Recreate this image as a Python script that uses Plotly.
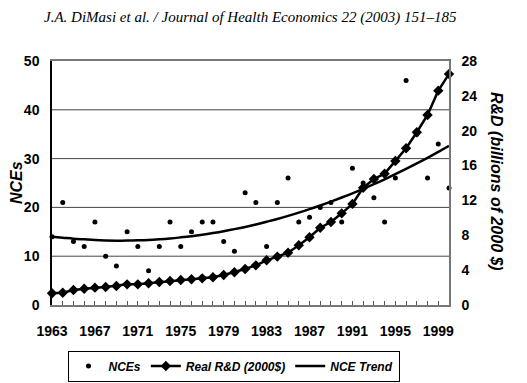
import plotly.graph_objects as go

years = list(range(1963, 2001))
nces = [14, 21, 13, 12, 17, 10, 8, 15, 12, 7,
        12, 17, 12, 15, 17, 17, 13, 11, 23, 21,
        12, 21, 26, 17, 18, 20, 21, 17, 28, 25,
        22, 17, 26, 46, 35, 26, 33, 24]
rd_real = [1.34, 1.41, 1.72, 1.87, 1.99, 2.07, 2.18, 2.37, 2.37, 2.49,
           2.64, 2.75, 2.87, 2.95, 3.06, 3.18, 3.44, 3.75, 4.13, 4.55,
           5.13, 5.55, 6.0, 6.85, 7.77, 8.87, 9.52, 10.52, 11.6, 13.46,
           14.46, 15.07, 16.53, 17.98, 19.82, 21.8, 24.6, 26.5]
nce_trend = [14.0, 13.8, 13.6, 13.45, 13.3, 13.22, 13.19, 13.2, 13.25, 13.34,
             13.47, 13.64, 13.86, 14.11, 14.41, 14.75, 15.13, 15.55, 16.0, 16.5,
             17.06, 17.64, 18.27, 18.93, 19.64, 20.39, 21.19, 22.02, 22.89, 23.81,
             24.76, 25.76, 26.8, 27.88, 29.0, 30.16, 31.36, 32.6]
label_years = list(range(1963, 2000, 4))
left_ticks = [0, 10, 20, 30, 40, 50]
right_ticks = [0, 4, 8, 12, 16, 20, 24, 28]

tick_font = dict(family="Liberation Sans, Arial", size=14, color="black", weight="bold")

# plot area in page pixels (the page body adds an 8px offset)
PX0, PX1, PY0, PY1 = 52, 449, 61, 305
OFF = 8


def px(x):
    return (x - PX0) / (PX1 - PX0)


def py(y):
    return (PY1 - y) / (PY1 - PY0)


fig = go.Figure()
fig.add_trace(go.Scatter(
    x=years, y=nces, mode="markers", name="NCEs",
    marker=dict(color="black", size=5), cliponaxis=False))
fig.add_trace(go.Scatter(
    x=years, y=rd_real, mode="lines+markers", name="Real R&D (2000$)",
    yaxis="y2", line=dict(color="black", width=2.5),
    marker=dict(symbol="diamond", color="black", size=8), cliponaxis=False))
fig.add_trace(go.Scatter(
    x=years, y=nce_trend, mode="lines", name="NCE Trend",
    line=dict(color="black", width=2.5, shape="spline", smoothing=1), cliponaxis=False))

# horizontal grid lines at the left-axis ticks
for v in left_ticks[1:-1]:
    fig.add_shape(type="line", xref="paper", yref="y", x0=0, x1=1, y0=v, y1=v,
                  line=dict(color="#444", width=1), layer="below")

W, H = 527 - OFF, 383 - OFF
fig.update_layout(
    width=W, height=H,
    margin=dict(l=PX0 - OFF, r=W - (PX1 - OFF), t=PY0 - OFF, b=H - (PY1 - OFF),
                autoexpand=False),
    paper_bgcolor="white", plot_bgcolor="white",
    showlegend=True,
    legend=dict(orientation="h", x=px(233.5), xanchor="center", y=py(350.5), yanchor="top",
                bordercolor="black", borderwidth=1, bgcolor="white",
                font=dict(family="Liberation Sans, Arial", size=12, color="black",
                          style="italic", weight="bold"),
                traceorder="normal", itemwidth=30, tracegroupgap=0),
    xaxis=dict(range=[1963, 2000], tickmode="array", tickvals=label_years,
               ticktext=[str(y) for y in label_years], automargin=False,
               ticks="inside", ticklen=4, tickcolor="#555", showline=True,
               linecolor="#777", linewidth=1.5, mirror=True, showgrid=False,
               zeroline=False, tickfont=tick_font, ticklabelstandoff=12,
               minor=dict(dtick=1, tick0=1963, ticks="inside", ticklen=4,
                          tickcolor="#555", showgrid=False)),
    yaxis=dict(range=[0, 50], tickmode="array", tickvals=left_ticks, automargin=False,
               showline=True, linecolor="black", linewidth=1.5,
               showgrid=False, zeroline=False,
               ticks="", tickfont=tick_font, ticklabelstandoff=8),
    yaxis2=dict(range=[0, 28], tickmode="array", tickvals=right_ticks, automargin=False,
                overlaying="y", side="right", showline=True, linecolor="#777",
                linewidth=1.5, showgrid=False, zeroline=False, ticks="",
                tickfont=tick_font, ticklabelstandoff=8),
    annotations=[
        dict(text="<i>J.A. DiMasi et al. / Journal of Health Economics 22 (2003) 151–185</i>",
             xref="paper", yref="paper", x=px(250), y=py(17),
             xanchor="center", yanchor="middle", showarrow=False,
             font=dict(family="Liberation Serif, Times New Roman", size=15, color="black")),
        dict(text="<b><i>NCEs</i></b>", xref="paper", yref="paper",
             x=px(16), y=0.5, xanchor="center", yanchor="middle",
             textangle=-90, showarrow=False,
             font=dict(family="Liberation Sans, Arial", size=16, color="black")),
        dict(text="<b><i>R&D (billions of 2000 $)</i></b>", xref="paper", yref="paper",
             x=px(497), y=py(181), xanchor="center", yanchor="middle",
             textangle=90, showarrow=False,
             font=dict(family="Liberation Sans, Arial", size=16, color="black")),
    ],
)

fig.write_html("out.html")
